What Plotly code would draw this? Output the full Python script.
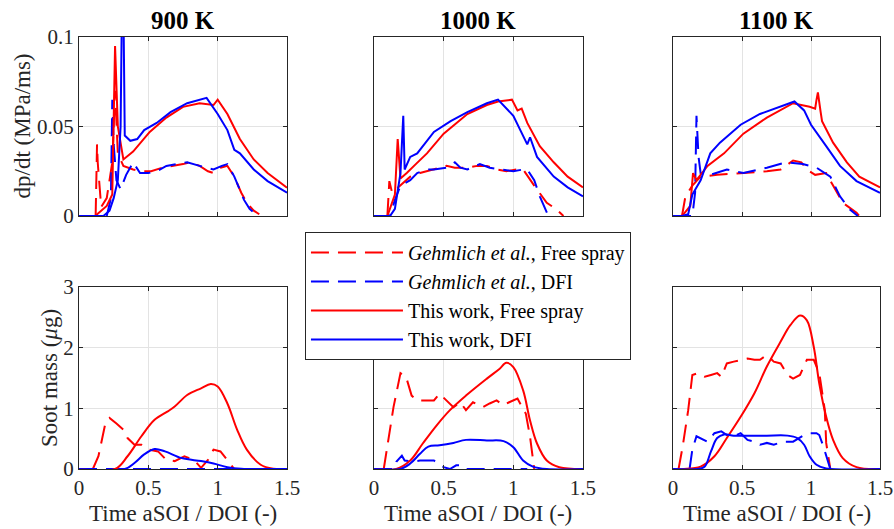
import plotly.graph_objects as go
from plotly.subplots import make_subplots

# ---- data ----
temps = ["900 K", "1000 K", "1100 K"]

# top row: dp/dt (MPa/ms)
t_900_exp_free = [0.12, 0.13, 0.135, 0.145, 0.16, 0.2, 0.24, 0.26, 0.28, 0.32, 0.39, 0.45, 0.52, 0.6, 0.68, 0.75, 0.8, 0.87, 0.93, 0.97, 1.02, 1.07, 1.12, 1.17, 1.21, 1.26, 1.3]
p_900_exp_free = [0, 0.04, 0.03, 0.02, 0.005, 0.01, 0.03, 0.07, 0.035, 0.028, 0.026, 0.025, 0.025, 0.027, 0.028, 0.029, 0.030, 0.028, 0.025, 0.024, 0.027, 0.028, 0.022, 0.013, 0.0074, 0.003, 0.001]
t_900_exp_dfi = [0, 0.2, 0.23, 0.24, 0.25, 0.27, 0.3, 0.34, 0.39, 0.44, 0.5, 0.56, 0.63, 0.7, 0.78, 0.87, 0.97, 1.03, 1.07, 1.12, 1.16, 1.19, 1.23, 1.26]
p_900_exp_dfi = [0, 0, 0.01, 0.065, 0.04, 0.02, 0.015, 0.023, 0.03, 0.024, 0.024, 0.025, 0.028, 0.029, 0.030, 0.028, 0.026, 0.028, 0.029, 0.022, 0.015, 0.009, 0.004, 0.002]
t_900_sim_free = [0, 0.116, 0.2, 0.24, 0.26, 0.28, 0.32, 0.39, 0.51, 0.63, 0.75, 0.87, 0.97, 1.0, 1.07, 1.16, 1.26, 1.36, 1.5]
p_900_sim_free = [0, 0, 0.0056, 0.012, 0.095, 0.05, 0.0316, 0.036, 0.047, 0.055, 0.061, 0.063, 0.062, 0.065, 0.057, 0.043, 0.0316, 0.024, 0.0158]
t_900_sim_dfi = [0, 0.176, 0.22, 0.25, 0.28, 0.3, 0.31, 0.32, 0.33, 0.37, 0.42, 0.47, 0.56, 0.66, 0.78, 0.92, 1.0, 1.07, 1.12, 1.16, 1.26, 1.36, 1.5]
p_900_sim_dfi = [0, 0, 0.003, 0.01, 0.02, 0.05, 0.12, 0.12, 0.045, 0.042, 0.043, 0.048, 0.052, 0.058, 0.063, 0.066, 0.057, 0.048, 0.037, 0.035, 0.026, 0.0195, 0.013]

t_1000_exp_free = [0.096, 0.11, 0.13, 0.19, 0.26, 0.33, 0.43, 0.52, 0.58, 0.67, 0.74, 0.81, 0.88, 0.95, 1.02, 1.07, 1.15, 1.24, 1.31, 1.36]
p_1000_exp_free = [0, 0.0195, 0.013, 0.017, 0.022, 0.024, 0.026, 0.028, 0.027, 0.027, 0.028, 0.028, 0.026, 0.025, 0.026, 0.026, 0.017, 0.0074, 0.0037, 0]
t_1000_exp_dfi = [0, 0.115, 0.15, 0.19, 0.26, 0.31, 0.38, 0.43, 0.52, 0.58, 0.62, 0.67, 0.76, 0.83, 0.91, 1.0, 1.07, 1.1, 1.15, 1.19, 1.24, 1.25]
p_1000_exp_dfi = [0, 0, 0.009, 0.017, 0.02, 0.024, 0.026, 0.026, 0.027, 0.030, 0.027, 0.026, 0.029, 0.027, 0.026, 0.025, 0.026, 0.026, 0.020, 0.011, 0.002, 0]
t_1000_sim_free = [0, 0.096, 0.15, 0.16, 0.17, 0.19, 0.235, 0.3, 0.38, 0.5, 0.67, 0.81, 0.89, 0.99, 1.03, 1.06, 1.1, 1.19, 1.29, 1.39, 1.5]
p_1000_sim_free = [0, 0, 0.012, 0.03, 0.043, 0.021, 0.024, 0.029, 0.035, 0.046, 0.057, 0.062, 0.064, 0.065, 0.059, 0.060, 0.052, 0.039, 0.030, 0.022, 0.016]
t_1000_sim_dfi = [0, 0.115, 0.15, 0.19, 0.2, 0.21, 0.22, 0.26, 0.31, 0.43, 0.55, 0.67, 0.81, 0.89, 1.0, 1.1, 1.12, 1.17, 1.29, 1.39, 1.5]
p_1000_sim_dfi = [0, 0, 0.004, 0.024, 0.04, 0.056, 0.026, 0.033, 0.035, 0.047, 0.053, 0.058, 0.063, 0.065, 0.056, 0.040, 0.044, 0.033, 0.022, 0.016, 0.011]

t_1100_exp_free = [0.065, 0.09, 0.14, 0.2, 0.32, 0.51, 0.68, 0.78, 0.87, 0.93, 0.97, 1.03, 1.11, 1.16, 1.23, 1.33, 1.35]
p_1100_exp_free = [0, 0.011, 0.017, 0.022, 0.023, 0.024, 0.025, 0.026, 0.031, 0.030, 0.026, 0.023, 0.024, 0.017, 0.0074, 0.0019, 0]
t_1100_exp_dfi = [0, 0.14, 0.16, 0.17, 0.185, 0.2, 0.27, 0.39, 0.51, 0.68, 0.82, 0.94, 1.04, 1.14, 1.21, 1.28, 1.34]
p_1100_exp_dfi = [0, 0, 0.013, 0.056, 0.033, 0.024, 0.023, 0.026, 0.024, 0.027, 0.030, 0.029, 0.027, 0.022, 0.011, 0.0037, 0]
t_1100_sim_free = [0, 0.065, 0.125, 0.145, 0.17, 0.25, 0.37, 0.51, 0.68, 0.87, 0.99, 1.03, 1.04, 1.05, 1.07, 1.08, 1.16, 1.26, 1.35, 1.5]
p_1100_sim_free = [0, 0, 0.0056, 0.024, 0.02, 0.028, 0.035, 0.046, 0.055, 0.063, 0.061, 0.060, 0.065, 0.069, 0.058, 0.053, 0.041, 0.030, 0.022, 0.016]
t_1100_sim_dfi = [0, 0.065, 0.11, 0.14, 0.2, 0.27, 0.34, 0.49, 0.63, 0.78, 0.88, 0.95, 1.0, 1.11, 1.21, 1.33, 1.5]
p_1100_sim_dfi = [0, 0, 0.001, 0.012, 0.020, 0.035, 0.041, 0.051, 0.057, 0.061, 0.064, 0.059, 0.051, 0.039, 0.028, 0.0195, 0.013]

# bottom row: soot mass (ug)
s_t_900_exp_free = [0.1, 0.14, 0.19, 0.22, 0.27, 0.32, 0.35, 0.4, 0.45, 0.5, 0.57, 0.63, 0.69, 0.76, 0.83, 0.88, 0.93, 0.97, 1.02, 1.07, 1.09, 1.12]
s_m_900_exp_free = [0, 0.21, 0.75, 0.84, 0.75, 0.65, 0.51, 0.40, 0.40, 0.32, 0.29, 0.15, 0.13, 0.21, 0.15, 0.02, 0.15, 0.32, 0.29, 0.15, 0.1, 0]
s_t_900_exp_dfi = [0, 1.1]
s_m_900_exp_dfi = [0, 0]
s_t_900_sim_free = [0, 0.26, 0.35, 0.45, 0.545, 0.64, 0.69, 0.78, 0.88, 0.95, 1.0, 1.07, 1.14, 1.21, 1.31, 1.4, 1.5]
s_m_900_sim_free = [0, 0, 0.21, 0.54, 0.81, 0.95, 1.03, 1.22, 1.33, 1.40, 1.36, 1.08, 0.65, 0.32, 0.07, 0.005, 0]
s_t_900_sim_dfi = [0, 0.33, 0.4, 0.47, 0.545, 0.62, 0.74, 0.88, 0.97, 1.07, 1.17, 1.5]
s_m_900_sim_dfi = [0, 0, 0.1, 0.24, 0.33, 0.29, 0.18, 0.13, 0.09, 0.03, 0.005, 0]

s_t_1000_exp_free = [0.07, 0.1, 0.14, 0.19, 0.23, 0.27, 0.31, 0.35, 0.43, 0.47, 0.52, 0.57, 0.62, 0.66, 0.71, 0.78, 0.83, 0.88, 0.93, 0.97, 1.03, 1.09, 1.12, 1.15]
s_m_1000_exp_free = [0, 0.47, 1.02, 1.58, 1.52, 1.21, 1.13, 1.13, 1.13, 1.24, 1.13, 1.02, 1.10, 0.97, 1.10, 1.02, 1.08, 1.13, 1.05, 1.10, 1.16, 0.91, 0.53, 0]
s_t_1000_exp_dfi = [0, 0.14, 0.16, 0.2, 0.22, 0.28, 0.33, 0.43, 0.5, 0.545, 0.59, 0.62, 0.65, 1.1]
s_m_1000_exp_dfi = [0, 0, 0.12, 0.22, 0.14, 0.12, 0.14, 0.14, 0.03, 0, 0.06, 0.06, 0, 0]
s_t_1000_sim_free = [0, 0.16, 0.26, 0.35, 0.45, 0.545, 0.66, 0.81, 0.9, 0.95, 1.0, 1.07, 1.12, 1.17, 1.24, 1.33, 1.5]
s_m_1000_sim_free = [0, 0, 0.14, 0.42, 0.72, 0.97, 1.21, 1.49, 1.65, 1.75, 1.68, 1.30, 0.80, 0.42, 0.14, 0.03, 0]
s_t_1000_sim_dfi = [0, 0.19, 0.26, 0.33, 0.39, 0.47, 0.57, 0.66, 0.81, 0.93, 1.0, 1.07, 1.14, 1.24, 1.5]
s_m_1000_sim_dfi = [0, 0, 0.09, 0.25, 0.37, 0.39, 0.43, 0.48, 0.47, 0.46, 0.36, 0.14, 0.04, 0, 0]

s_t_1100_exp_free = [0.04, 0.07, 0.11, 0.14, 0.18, 0.23, 0.275, 0.32, 0.35, 0.39, 0.44, 0.49, 0.54, 0.59, 0.63, 0.68, 0.73, 0.78, 0.83, 0.87, 0.92, 0.97, 1.02, 1.06, 1.1, 1.11, 1.14]
s_m_1100_exp_free = [0, 0.37, 0.97, 1.55, 1.58, 1.52, 1.55, 1.58, 1.52, 1.74, 1.77, 1.80, 1.82, 1.80, 1.80, 1.88, 1.77, 1.74, 1.55, 1.49, 1.55, 1.80, 1.80, 1.58, 0.97, 0.43, 0]
s_t_1100_exp_dfi = [0.12, 0.14, 0.17, 0.2, 0.25, 0.3, 0.35, 0.39, 0.44, 0.49, 0.54, 0.59, 0.63, 0.68, 0.73, 0.8, 0.87, 0.95, 0.99, 1.04, 1.06, 1.09, 1.11, 1.14]
s_m_1100_exp_dfi = [0, 0.32, 0.54, 0.51, 0.45, 0.59, 0.62, 0.56, 0.54, 0.59, 0.48, 0.45, 0.40, 0.43, 0.40, 0.45, 0.45, 0.56, 0.59, 0.59, 0.56, 0.37, 0.21, 0]
s_t_1100_sim_free = [0, 0.08, 0.2, 0.3, 0.39, 0.49, 0.59, 0.68, 0.78, 0.85, 0.92, 0.97, 1.02, 1.06, 1.11, 1.16, 1.23, 1.33, 1.5]
s_m_1100_sim_free = [0, 0, 0.04, 0.21, 0.51, 0.86, 1.25, 1.69, 2.10, 2.37, 2.53, 2.45, 2.01, 1.41, 0.86, 0.48, 0.18, 0.03, 0]
s_t_1100_sim_dfi = [0, 0.18, 0.23, 0.275, 0.32, 0.37, 0.44, 0.56, 0.68, 0.83, 0.9, 0.95, 0.99, 1.04, 1.11, 1.5]
s_m_1100_sim_dfi = [0, 0, 0.04, 0.29, 0.51, 0.57, 0.55, 0.55, 0.55, 0.55, 0.51, 0.40, 0.21, 0.07, 0.01, 0]

dpdt = [
    [(t_900_exp_free, p_900_exp_free), (t_900_exp_dfi, p_900_exp_dfi), (t_900_sim_free, p_900_sim_free), (t_900_sim_dfi, p_900_sim_dfi)],
    [(t_1000_exp_free, p_1000_exp_free), (t_1000_exp_dfi, p_1000_exp_dfi), (t_1000_sim_free, p_1000_sim_free), (t_1000_sim_dfi, p_1000_sim_dfi)],
    [(t_1100_exp_free, p_1100_exp_free), (t_1100_exp_dfi, p_1100_exp_dfi), (t_1100_sim_free, p_1100_sim_free), (t_1100_sim_dfi, p_1100_sim_dfi)],
]
soot = [
    [(s_t_900_exp_free, s_m_900_exp_free), (s_t_900_exp_dfi, s_m_900_exp_dfi), (s_t_900_sim_free, s_m_900_sim_free), (s_t_900_sim_dfi, s_m_900_sim_dfi)],
    [(s_t_1000_exp_free, s_m_1000_exp_free), (s_t_1000_exp_dfi, s_m_1000_exp_dfi), (s_t_1000_sim_free, s_m_1000_sim_free), (s_t_1000_sim_dfi, s_m_1000_sim_dfi)],
    [(s_t_1100_exp_free, s_m_1100_exp_free), (s_t_1100_exp_dfi, s_m_1100_exp_dfi), (s_t_1100_sim_free, s_m_1100_sim_free), (s_t_1100_sim_dfi, s_m_1100_sim_dfi)],
]

names = ["<i>Gehmlich et al.</i>, Free spray", "<i>Gehmlich et al.</i>, DFI",
         "This work, Free spray", "This work, DFI"]
colors = ["#ff0000", "#0000ff", "#ff0000", "#0000ff"]
dashes = ["18px,9px", "18px,9px", "solid", "solid"]

FONT = "Liberation Serif"
AX = "#262626"

fig = make_subplots(rows=2, cols=3)

for c in range(3):
    for k in range(4):
        x, y = dpdt[c][k]
        fig.add_trace(go.Scatter(x=x, y=y, mode="lines", name=names[k],
                                 line=dict(color=colors[k], width=2, dash=dashes[k]),
                                 showlegend=(c == 0), legendrank=k),
                      row=1, col=c + 1)
    for k in range(4):
        x, y = soot[c][k]
        shape = "spline" if k >= 2 else "linear"
        fig.add_trace(go.Scatter(x=x, y=y, mode="lines", name=names[k],
                                 line=dict(color=colors[k], width=2, dash=dashes[k], shape=shape),
                                 showlegend=False),
                      row=2, col=c + 1)

xdoms = [(0.0, 0.2597), (0.3683, 0.6292), (0.7416, 1.0)]
ydoms = [(0.5856, 1.0), (0.0, 0.4213)]

common = dict(showline=True, mirror="ticks", linecolor=AX, linewidth=1,
              ticks="inside", ticklen=4, tickcolor=AX, showgrid=True,
              gridcolor="#e3e3e3", zeroline=False, automargin=False,
              tickfont=dict(family=FONT, size=21, color=AX))

for r in range(2):
    for c in range(3):
        idx = r * 3 + c + 1
        xa = "xaxis" if idx == 1 else f"xaxis{idx}"
        ya = "yaxis" if idx == 1 else f"yaxis{idx}"
        fig.layout[xa].update(domain=xdoms[c], range=[0, 1.5],
                              tickvals=[0, 0.5, 1, 1.5], ticktext=["0", "0.5", "1", "1.5"],
                              showticklabels=(r == 1), **common)
        if r == 0:
            fig.layout[ya].update(domain=ydoms[r], range=[0, 0.1],
                                  tickvals=[0, 0.05, 0.1], ticktext=["0", "0.05", "0.1"],
                                  showticklabels=(c == 0), **common)
        else:
            fig.layout[ya].update(domain=ydoms[r], range=[0, 3],
                                  tickvals=[0, 1, 2, 3], ticktext=["0", "1", "2", "3"],
                                  showticklabels=(c == 0), **common)

title_font = dict(family=FONT, size=23, color=AX)

# axis titles as paper annotations (pixel offsets from the plot area)
for c in range(3):
    xc = (xdoms[c][0] + xdoms[c][1]) / 2
    fig.add_annotation(text="Time aSOI / DOI (-)", xref="paper", yref="paper",
                       x=xc, y=0, xanchor="center", yanchor="middle",
                       yshift=-44, showarrow=False, font=title_font)
    fig.add_annotation(text=f"<b>{temps[c]}</b>", xref="paper", yref="paper",
                       x=xc, y=1.0, xanchor="center", yanchor="middle",
                       yshift=17, showarrow=False,
                       font=dict(family=FONT, size=25, color="black"))

fig.add_annotation(text="dp/dt (MPa/ms)", textangle=-90, xref="paper", yref="paper",
                   x=0, y=sum(ydoms[0]) / 2, xanchor="center", yanchor="middle",
                   xshift=-56, showarrow=False, font=title_font)
fig.add_annotation(text="Soot mass (<i>μ</i>g)", textangle=-90, xref="paper", yref="paper",
                   x=0, y=sum(ydoms[1]) / 2, xanchor="center", yanchor="middle",
                   xshift=-29, showarrow=False, font=title_font)

fig.update_layout(
    width=894, height=529,
    margin=dict(l=79, r=14, t=37, b=60),
    paper_bgcolor="white", plot_bgcolor="white",
    font=dict(family=FONT, size=20, color=AX),
    legend=dict(x=0.2821, y=0.5486, xanchor="left", yanchor="top",
                bgcolor="white", bordercolor=AX, borderwidth=1,
                itemwidth=92, font=dict(family=FONT, size=20, color="black"),
                tracegroupgap=0),
)

fig.write_html("out.html", config={"displayModeBar": False},
               post_script="document.body.style.margin='0';")
